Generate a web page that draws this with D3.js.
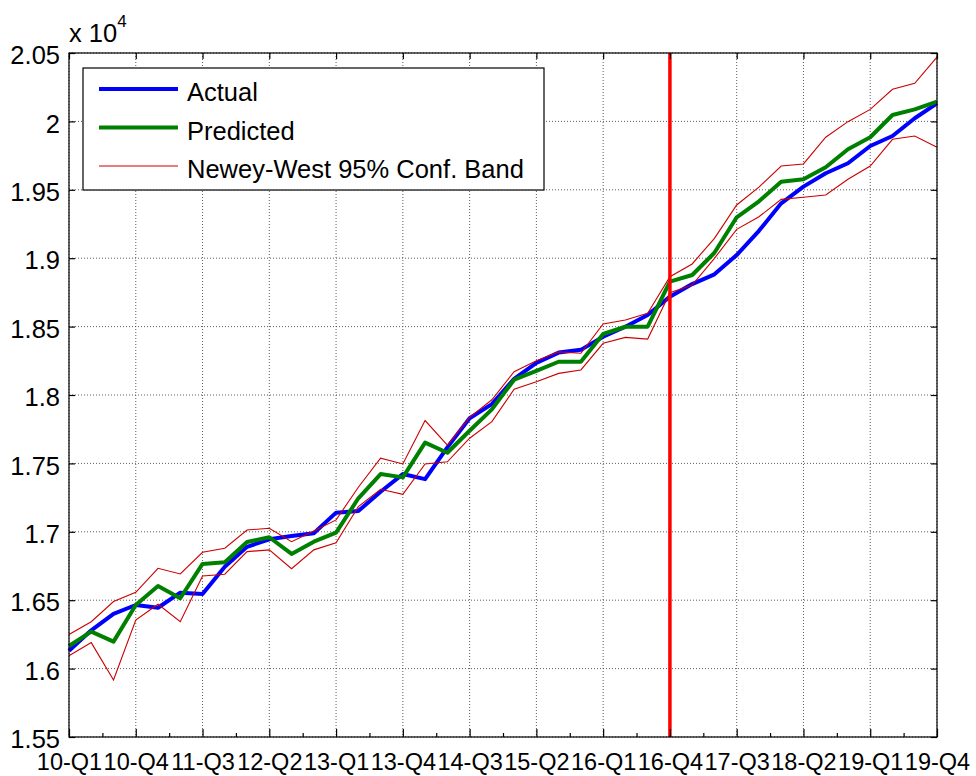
<!DOCTYPE html>
<html>
<head>
<meta charset="utf-8">
<script src="https://cdn.jsdelivr.net/npm/d3@7"></script>
<style>
  body { margin: 0; background: #fff; }
  text { font-family: "Liberation Sans", Arial, sans-serif; fill: #000; }
</style>
</head>
<body>
<div id="chart"></div>
<script>
// quarters 10-Q1 .. 19-Q4
var quarters = [
  "10-Q1","10-Q2","10-Q3","10-Q4","11-Q1","11-Q2","11-Q3","11-Q4",
  "12-Q1","12-Q2","12-Q3","12-Q4","13-Q1","13-Q2","13-Q3","13-Q4",
  "14-Q1","14-Q2","14-Q3","14-Q4","15-Q1","15-Q2","15-Q3","15-Q4",
  "16-Q1","16-Q2","16-Q3","16-Q4","17-Q1","17-Q2","17-Q3","17-Q4",
  "18-Q1","18-Q2","18-Q3","18-Q4","19-Q1","19-Q2","19-Q3","19-Q4"
];
var tickLabels = ["10-Q1","10-Q4","11-Q3","12-Q2","13-Q1","13-Q4","14-Q3",
  "15-Q2","16-Q1","16-Q4","17-Q3","18-Q2","19-Q1","19-Q4"];
var yTicks = [15500, 16000, 16500, 17000, 17500, 18000, 18500, 19000, 19500, 20000, 20500];

var actual = [16130,16280,16400,16465,16445,16555,16545,16745,16890,16945,
  16970,16990,17140,17152,17293,17422,17385,17617,17830,17933,
  18118,18235,18310,18330,18426,18499,18585,18719,18811,18882,
  19023,19200,19401,19523,19621,19694,19820,19893,20023,20132];
var predicted = [16165,16270,16197,16465,16604,16514,16765,16777,16925,16960,
  16838,16928,16994,17245,17422,17398,17652,17578,17739,17895,
  18112,18177,18243,18243,18446,18499,18499,18829,18877,19040,
  19299,19416,19559,19577,19665,19796,19884,20047,20088,20144];
var upper = [16250,16343,16490,16558,16733,16692,16850,16880,17013,17026,
  16928,17006,17087,17326,17538,17496,17813,17634,17837,17965,
  18170,18250,18315,18305,18519,18548,18597,18865,18958,19145,
  19389,19520,19674,19689,19884,19998,20088,20235,20279,20470];
var lower = [16094,16190,15917,16355,16470,16343,16677,16690,16855,16868,
  16730,16868,16920,17184,17311,17274,17496,17512,17684,17805,
  18042,18097,18158,18183,18378,18421,18409,18748,18804,18999,
  19211,19303,19430,19445,19462,19577,19674,19869,19893,19811];
var forecastStart = "16-Q4";

var margin = { top: 53, right: 39, bottom: 39, left: 69 },
  width = 976 - margin.left - margin.right,
  height = 776 - margin.top - margin.bottom;

var svg = d3.select("#chart").append("svg")
  .attr("width", 976).attr("height", 776)
  .append("g")
  .attr("transform", "translate(" + margin.left + "," + margin.top + ")");

var x = d3.scaleLinear().domain([0, quarters.length - 1]).range([0, width]);
var y = d3.scaleLinear().domain([15500, 20500]).range([height, 0]);

var majorIdx = tickLabels.map(function (t) { return quarters.indexOf(t); });
var minorIdx = majorIdx.slice(0, -1).map(function (i) { return i + 1.5; });

// grid
svg.append("g").selectAll("line").data(yTicks).enter().append("line")
  .attr("x1", 0).attr("x2", width)
  .attr("y1", function (d) { return y(d); }).attr("y2", function (d) { return y(d); })
  .attr("stroke", "#333").attr("stroke-width", 0.8).attr("stroke-dasharray", "1,2");
svg.append("g").selectAll("line").data(majorIdx).enter().append("line")
  .attr("y1", 0).attr("y2", height)
  .attr("x1", function (d) { return x(d); }).attr("x2", function (d) { return x(d); })
  .attr("stroke", "#333").attr("stroke-width", 0.8).attr("stroke-dasharray", "1,2");

// series
var line = d3.line().x(function (d, i) { return x(i); }).y(function (d) { return y(d); });

svg.append("path").datum(actual).attr("d", line)
  .attr("fill", "none").attr("stroke", "#0000ff").attr("stroke-width", 4)
  .attr("stroke-linejoin", "round");
svg.append("path").datum(predicted).attr("d", line)
  .attr("fill", "none").attr("stroke", "#008000").attr("stroke-width", 4)
  .attr("stroke-linejoin", "round");
[upper, lower].forEach(function (s) {
  svg.append("path").datum(s).attr("d", line)
    .attr("fill", "none").attr("stroke", "#cc0000").attr("stroke-width", 1.1);
});

// forecast start marker
var fx = x(quarters.indexOf(forecastStart));
svg.append("line").attr("x1", fx).attr("x2", fx).attr("y1", 0).attr("y2", height)
  .attr("stroke", "#ff0000").attr("stroke-width", 3.5);

// axes box
svg.append("rect").attr("width", width).attr("height", height)
  .attr("fill", "none").attr("stroke", "#000").attr("stroke-width", 1.2);

var fmt = function (d) { return String(+(d / 1e4).toFixed(2)); };
var yAxis = svg.append("g").call(d3.axisLeft(y).tickValues(yTicks).tickSize(-6).tickPadding(9).tickFormat(fmt));
var yAxisR = svg.append("g").attr("transform", "translate(" + width + ",0)")
  .call(d3.axisRight(y).tickValues(yTicks).tickSize(-6).tickFormat(""));
var xAxis = svg.append("g").attr("transform", "translate(0," + height + ")")
  .call(d3.axisBottom(x).tickValues(majorIdx).tickSize(-8).tickPadding(16)
    .tickFormat(function (d, i) { return tickLabels[i]; }));
var xMinor = svg.append("g").attr("transform", "translate(0," + height + ")")
  .call(d3.axisBottom(x).tickValues(minorIdx).tickSize(-4).tickFormat(""));
var xTop = svg.append("g")
  .call(d3.axisTop(x).tickValues(majorIdx).tickSize(-6).tickFormat(""));

[yAxis, yAxisR, xAxis, xMinor, xTop].forEach(function (a) {
  a.select(".domain").remove();
  a.selectAll("line").attr("stroke", "#000").attr("stroke-width", 1.2);
  a.selectAll("text").attr("font-size", 25.5).attr("font-family", "Liberation Sans, Arial, sans-serif");
});
yAxis.selectAll("text").attr("dy", "0.42em");
xAxis.selectAll("text").attr("font-size", 23.5);

// exponent label
var expo = svg.append("text").attr("x", 0).attr("y", -11).attr("font-size", 25.5);
expo.append("tspan").text("x 10");
expo.append("tspan").attr("dy", -15).attr("font-size", 17).text("4");

// legend
var legend = svg.append("g").attr("transform", "translate(" + (83 - margin.left) + "," + (68 - margin.top) + ")");
legend.append("rect").attr("width", 461).attr("height", 122)
  .attr("fill", "#fff").attr("stroke", "#000").attr("stroke-width", 1.2);
var legendItems = [
  { name: "Actual", color: "#0000ff", w: 4 },
  { name: "Predicted", color: "#008000", w: 4 },
  { name: "Newey-West 95% Conf. Band", color: "#cc0000", w: 1.1 }
];
legendItems.forEach(function (d, i) {
  var ly = 21 + i * 38.5;
  legend.append("line").attr("x1", 16).attr("x2", 95).attr("y1", ly).attr("y2", ly)
    .attr("stroke", d.color).attr("stroke-width", d.w);
  legend.append("text").attr("x", 104).attr("y", ly + 12).attr("font-size", 25.5).text(d.name);
});
</script>
</body>
</html>
